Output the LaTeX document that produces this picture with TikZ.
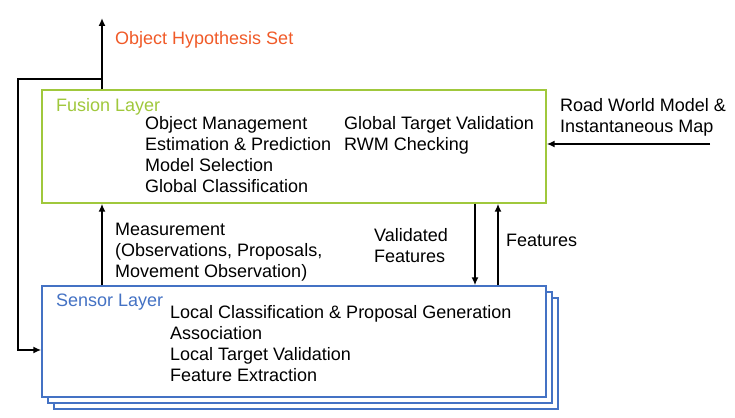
\documentclass[tikz,border=0pt]{standalone}
\usepackage{fontspec}
\setmainfont{Liberation Sans}
\usetikzlibrary{arrows.meta}
\definecolor{fusiongreen}{RGB}{160,200,60}
\definecolor{sensorblue}{RGB}{68,114,196}
\definecolor{hypred}{RGB}{240,90,40}
\begin{document}
\begin{tikzpicture}[x=1pt,y=-1pt,
    txt/.style={anchor=base west,inner sep=0,align=left,font=\fontsize{18}{21.2}\selectfont},
    layer/.style={draw,line width=1.4pt,fill=white,minimum width=504pt,inner sep=0},
    arr/.style={line width=2.2pt,-{Latex[length=8pt,width=7pt]}}]
    \useasboundingbox (0,0) rectangle (735,417);
    % sensor stack
    \node[layer,draw=sensorblue,minimum height=111pt] (sensor3) at (306,353.5) {};
    \node[layer,draw=sensorblue,minimum height=111pt] (sensor2) at (300,347.5) {};
    \node[layer,draw=sensorblue,minimum height=111pt] (sensor) at (294,341.5) {};
    \node[layer,draw=fusiongreen,minimum height=113pt] (fusion) at (294,146.5) {};
    % texts (multi-line nodes sit on their last baseline)
    \node[txt,text=fusiongreen] (fusionlbl) at (56,111.5) {Fusion Layer};
    \node[txt] (fusionleft) at (145,192.9) {Object Management\\Estimation \& Prediction\\Model Selection\\Global Classification};
    \node[txt] (fusionright) at (344,150.5) {Global Target Validation\\RWM Checking};
    \node[txt,text=sensorblue] (sensorlbl) at (56,306.7) {Sensor Layer};
    \node[txt] (sensortxt) at (170,381.9) {Local Classification \& Proposal Generation\\Association\\Local Target Validation\\Feature Extraction};
    \node[txt,text=hypred] (hyplbl) at (115,45) {Object Hypothesis Set};
    \node[txt] (measlbl) at (115,277.4) {Measurement\\(Observations, Proposals,\\Movement Observation)};
    \node[txt] (vallbl) at (374,262.9) {Validated\\Features};
    \node[txt] (featlbl) at (506,246.7) {Features};
    \node[txt] (rwmlbl) at (560,132.9) {Road World Model \&\\Instantaneous Map};
    % arrows
    \coordinate (out) at (102,18);
    \coordinate (split) at (102,79);
    \coordinate (rwm) at (710,144);
    \draw[arr] (fusion.north -| out) -- (out);
    \draw[arr] (split) -- ++(-84,0) |- ([yshift=-8.5pt]sensor.west);
    \draw[arr] (sensor.north -| out) -- (fusion.south -| out);
    \draw[arr] ([xshift=181pt]fusion.south) -- ([xshift=181pt]sensor.north);
    \draw[arr] ([xshift=204pt]sensor.north) -- ([xshift=204pt]fusion.south);
    \draw[arr] (rwm) -- (fusion.east |- rwm);
\end{tikzpicture}
\end{document}
